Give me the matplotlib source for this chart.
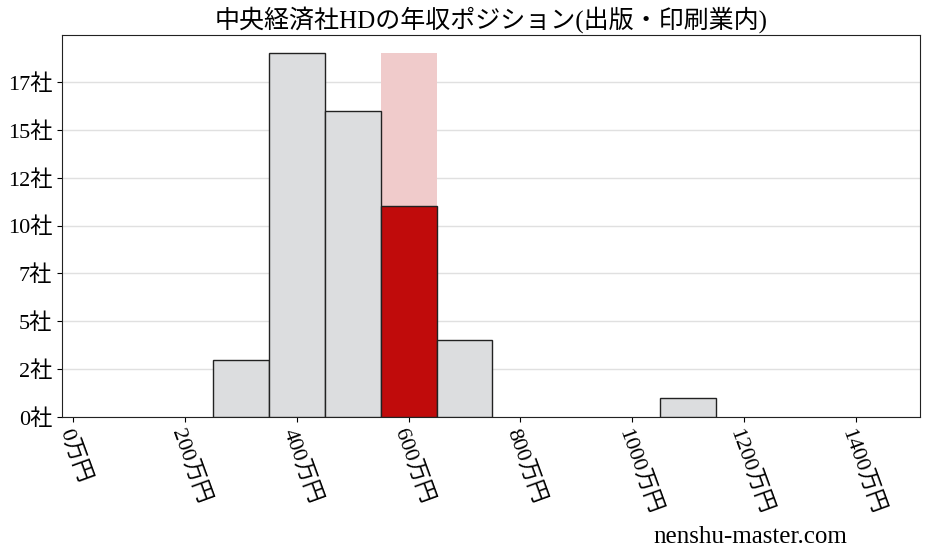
import matplotlib
matplotlib.use('Agg')
import matplotlib.pyplot as plt

plt.rcParams['font.family'] = ['Liberation Serif', 'Noto Sans CJK JP', 'DejaVu Sans']

# histogram bins (lower edge, 万円) and company counts
bin_left = [250, 350, 450, 550, 650, 1050]
counts = [3, 19, 16, 19, 4, 1]
highlight_bin = 550      # bin of this company
highlight_count = 11
bin_width = 100
xticks = [0, 200, 400, 600, 800, 1000, 1200, 1400]
yticks = [0, 2.5, 5, 7.5, 10, 12.5, 15, 17.5]
title = '中央経済社HDの年収ポジション(出版・印刷業内)'

fig = plt.figure(figsize=(9.28, 5.57), dpi=100)
ax = fig.add_axes([62/928, 1-417/557, (920-62)/928, (417-35)/557])

for x, c in zip(bin_left, counts):
    if x == highlight_bin:
        ax.bar(x, c, width=bin_width, align='edge', color='#f0cbcb', zorder=2)
        ax.bar(x, highlight_count, width=bin_width, align='edge', color='#c00b0b',
               edgecolor='#222222', linewidth=1, zorder=3)
    else:
        ax.bar(x, c, width=bin_width, align='edge', color='#dcdddf',
               edgecolor='#222222', linewidth=1, zorder=3)

ax.set_xlim(-20, 1515)
ax.set_ylim(0, 19.95)
ax.set_yticks(yticks)
ax.set_yticklabels([f'{int(v)}社' for v in yticks], fontsize=16)
ax.set_xticks(xticks)
ax.set_xticklabels([f'{v}万円' for v in xticks], fontsize=16, rotation=-70,
                   ha='left', rotation_mode='anchor')
ax.grid(axis='y', color='#e0e0e0', linewidth=1, zorder=0)
ax.set_axisbelow(True)
for s in ax.spines.values():
    s.set_color('#222222')
ax.set_title(title, fontsize=18, pad=5)
fig.text(750/928, 1-537/557, 'nenshu-master.com', fontsize=18, ha='center', va='center')

fig.savefig('out.png', dpi=100)
